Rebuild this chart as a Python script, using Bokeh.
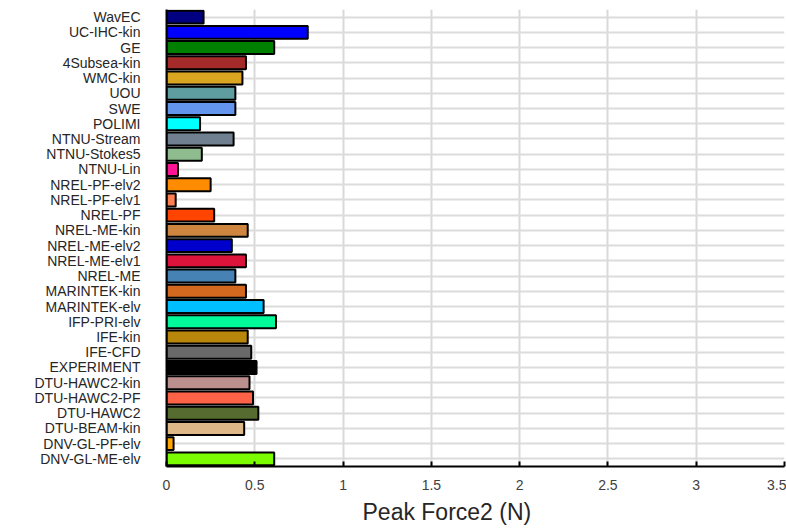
from bokeh.plotting import figure
from bokeh.models import FactorRange, Range1d, ColumnDataSource, FixedTicker, Title
from bokeh.embed import file_html
from bokeh.resources import INLINE

names = ["WavEC", "UC-IHC-kin", "GE", "4Subsea-kin", "WMC-kin", "UOU", "SWE", "POLIMI",
         "NTNU-Stream", "NTNU-Stokes5", "NTNU-Lin", "NREL-PF-elv2", "NREL-PF-elv1", "NREL-PF",
         "NREL-ME-kin", "NREL-ME-elv2", "NREL-ME-elv1", "NREL-ME", "MARINTEK-kin", "MARINTEK-elv",
         "IFP-PRI-elv", "IFE-kin", "IFE-CFD", "EXPERIMENT", "DTU-HAWC2-kin", "DTU-HAWC2-PF",
         "DTU-HAWC2", "DTU-BEAM-kin", "DNV-GL-PF-elv", "DNV-GL-ME-elv"]
peak_force2 = [0.21, 0.80, 0.61, 0.45, 0.43, 0.39, 0.39, 0.19,
               0.38, 0.20, 0.065, 0.25, 0.052, 0.27,
               0.46, 0.37, 0.45, 0.39, 0.45, 0.55,
               0.62, 0.46, 0.48, 0.51, 0.47, 0.49,
               0.52, 0.44, 0.04, 0.61]
colors = ["#000080", "#0000FF", "#008000", "#A52A2A", "#DAA520", "#5F9EA0", "#6495ED", "#00FFFF",
          "#708090", "#8FBC8F", "#FF1493", "#FF8C00", "#FF7F50", "#FF4500",
          "#CD853F", "#0000CD", "#DC143C", "#4682B4", "#D2691E", "#00BFFF",
          "#00FA9A", "#B8860B", "#696969", "#000000", "#BC8F8F", "#FF6347",
          "#556B2F", "#DEB887", "#FFA500", "#7CFC00"]
x_ticks = [0, 0.5, 1, 1.5, 2, 2.5, 3, 3.5]
x_label = "Peak Force2 (N)"

src = ColumnDataSource(dict(name=names, val=peak_force2, color=colors))

p = figure(width=786, height=528, output_backend="svg", toolbar_location=None,
           y_range=FactorRange(factors=list(reversed(names)), range_padding=0),
           x_range=Range1d(0, 3.5),
           min_border_left=166, min_border_right=2, min_border_top=9, min_border_bottom=61)
p.outline_line_color = None

p.hbar(y="name", right="val", left=0, height=0.85, fill_color="color",
       line_color="black", line_width=2, source=src)

font = "Liberation Sans"
p.xaxis.ticker = FixedTicker(ticks=x_ticks)
p.xaxis.major_label_overrides = {0: "0", 1: "1", 2: "2", 3: "3"}
p.xaxis.major_label_text_font = font
p.xaxis.major_label_text_font_size = "14px"
p.xaxis.major_label_text_color = "#404040"
p.xaxis.major_label_standoff = 13
p.xaxis.major_tick_in = 5
p.xaxis.major_tick_out = 0
p.xaxis.minor_tick_line_color = None
p.xaxis.axis_line_width = 2
p.xaxis.axis_line_color = "black"
p.xaxis.major_tick_line_color = "black"
p.xaxis.major_tick_line_width = 2

p.add_layout(Title(text=x_label, align="left", offset=196, text_font=font,
                   text_font_style="normal", text_font_size="23px",
                   text_color="#262626", standoff=8), "below")

p.yaxis.major_label_text_font = font
p.yaxis.major_label_text_font_size = "14px"
p.yaxis.major_label_text_color = "#262626"
p.yaxis.major_label_standoff = 20
p.yaxis.major_tick_line_color = None
p.yaxis.minor_tick_line_color = None
p.yaxis.axis_line_width = 2
p.yaxis.axis_line_color = "black"

p.xgrid.grid_line_color = "#d9d9d9"
p.xgrid.grid_line_width = 2
p.ygrid.grid_line_color = "#dcdcdc"
p.ygrid.grid_line_width = 2

open("out.html", "w").write(file_html(p, INLINE))
